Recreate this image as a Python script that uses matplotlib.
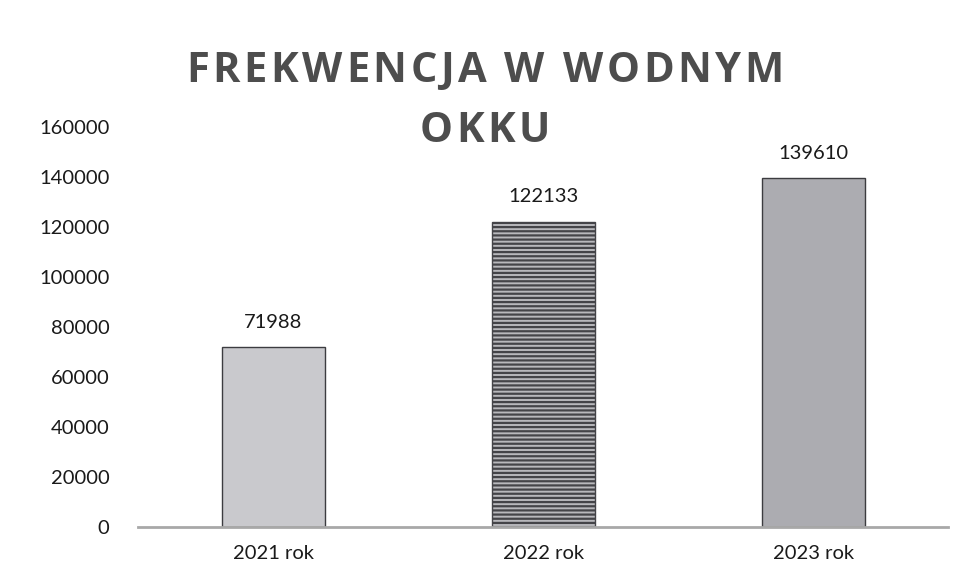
import matplotlib
matplotlib.use("Agg")
import matplotlib.pyplot as plt
from matplotlib.font_manager import FontProperties

categories = ["2021 rok", "2022 rok", "2023 rok"]
values = [71988, 122133, 139610]
yticks = [0, 20000, 40000, 60000, 80000, 100000, 120000, 140000, 160000]
title_lines = ["FREKWENCJA W WODNYM", "OKKU"]

plt.rcParams['font.family'] = ['Lato', 'DejaVu Sans']
plt.rcParams['hatch.linewidth'] = 1.6

W, H, DPI = 9.57, 5.83, 100
fig = plt.figure(figsize=(W, H), dpi=DPI)
ax = fig.add_axes([0.1447, 0.096, 0.8464, 0.686])

fills = ["#c9c9cd", "#b8b8bc", "#acacb1"]
hatches = [None, "----", None]
edges = ["#3c3c40", "#444448", "#3c3c40"]
x = list(range(len(categories)))
for i, (xi, v) in enumerate(zip(x, values)):
    ax.bar(xi, v, width=0.378, color=fills[i], edgecolor=edges[i],
           linewidth=1.0, hatch=hatches[i], zorder=2)
    ax.annotate(str(v), (xi, v), xytext=(0, 14), textcoords="offset points",
                ha="center", va="baseline", fontsize=14.5, color="#1a1a1a")

ax.set_xlim(-0.5, 2.5)
ax.set_ylim(0, 160000)
ax.set_yticks(yticks)
ax.set_yticklabels([str(t) for t in yticks], fontsize=14.5, color="#1a1a1a")
ax.set_xticks(x)
ax.set_xticklabels(categories, fontsize=14.5, color="#1a1a1a")
ax.tick_params(axis="y", length=0, pad=21)
ax.tick_params(axis="x", length=0, pad=13)
for s in ["top", "right", "left"]:
    ax.spines[s].set_visible(False)
ax.spines["bottom"].set_color("#a8a8a8")
ax.spines["bottom"].set_linewidth(2.0)
ax.spines["bottom"].set_zorder(3)

# title with letter spacing (tracking)
prop = FontProperties(family="Open Sans", weight="bold", size=30)
renderer = fig.canvas.get_renderer()
track = 3.6  # px
space_w = 30 * DPI / 72 * 0.26
centers_y = [583 - 67, 583 - 126]  # pixel centres of the two lines (from bottom)
xc = 485
for line, yc in zip(title_lines, centers_y):
    widths = []
    for ch in line:
        if ch == " ":
            widths.append(space_w)
        else:
            w, h, d = renderer.get_text_width_height_descent(ch, prop, ismath=False)
            widths.append(w)
    total = sum(widths) + track * (len(line) - 1)
    xp = xc - total / 2
    for ch, w in zip(line, widths):
        if ch != " ":
            fig.text(xp / (W * DPI), yc / (H * DPI), ch, fontproperties=prop,
                     ha="left", va="center_baseline", color="#4d4d4d")
        xp += w + track

fig.savefig("out.png", dpi=DPI)
